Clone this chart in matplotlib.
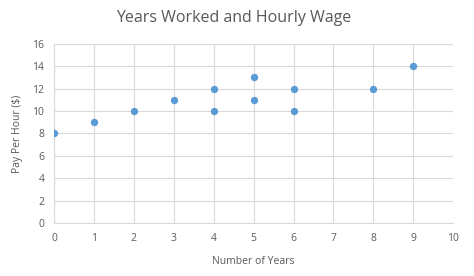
import matplotlib
matplotlib.use("Agg")
import matplotlib.pyplot as plt

years = [0, 1, 2, 3, 4, 4, 5, 5, 6, 6, 8, 9]
wage = [8, 9, 10, 11, 12, 10, 13, 11, 12, 10, 12, 14]

plt.rcParams['font.family'] = ['Open Sans', 'DejaVu Sans']
txt = '#595959'
grid = '#D9D9D9'

fig = plt.figure(figsize=(4.74, 2.76), dpi=100)
ax = fig.add_axes([0.114, 0.192, 0.842, 0.649])

ax.scatter(years, wage, s=28, color='#5B9BD5', zorder=3, linewidths=0)

ax.set_xlim(0, 10)
ax.set_ylim(0, 16)
ax.set_xticks(range(0, 11))
ax.set_yticks(range(0, 17, 2))
ax.grid(True, color=grid, linewidth=0.8)
ax.set_axisbelow(True)
for s in ['top', 'right']:
    ax.spines[s].set_visible(False)
ax.spines['left'].set_color(grid)
ax.spines['bottom'].set_color(grid)
ax.tick_params(length=0, labelsize=7.5, colors=txt, pad=7)

ax.set_xlabel('Number of Years', fontsize=7.5, color=txt, labelpad=9)
ax.set_ylabel('Pay Per Hour ($)', fontsize=7.5, color=txt, labelpad=7)
fig.text(0.493, 0.935, 'Years Worked and Hourly Wage', fontsize=11.5,
         color=txt, ha='center', va='center')

fig.savefig('out.png', dpi=100)
